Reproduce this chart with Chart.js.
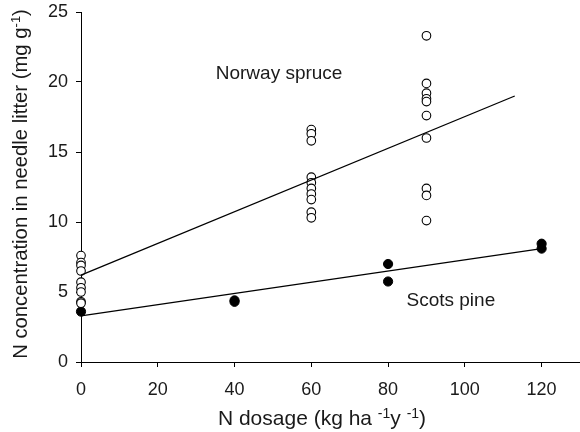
<!DOCTYPE html>
<html>
<head>
<meta charset="utf-8">
<script src="https://cdn.jsdelivr.net/npm/chart.js@4.4.1/dist/chart.umd.min.js"></script>
<style>
  html, body { margin: 0; padding: 0; background: #fff; }
  #wrap { width: 580px; height: 432px; }
</style>
</head>
<body>
<div id="wrap"><canvas id="litterChart" width="580" height="432"></canvas></div>
<script>
// N concentration in needle litter vs. N dosage

const doseTicks = [0, 20, 40, 60, 80, 100, 120];
const concTicks = [0, 5, 10, 15, 20, 25];

// Norway spruce (open circles)
const spruceDose = [
  0, 0, 0, 0, 0, 0, 0, 0, 0,
  60, 60, 60, 60, 60, 60, 60, 60, 60, 60,
  90, 90, 90, 90, 90, 90, 90, 90, 90, 90
];
const spruceConc = [
  7.6, 7.1, 6.9, 6.5, 5.7, 5.3, 5.0, 4.3, 4.2,
  16.6, 16.3, 15.8, 13.2, 12.8, 12.4, 12.0, 11.6, 10.7, 10.3,
  23.3, 19.9, 19.2, 18.8, 18.6, 17.6, 16.0, 12.4, 11.9, 10.1
];

// Scots pine (filled circles)
const pineDose = [0, 40, 40, 80, 80, 120, 120];
const pineConc = [3.6, 4.3, 4.4, 7.0, 5.75, 8.45, 8.1];

// regression lines (end points)
const spruceFitDose = [0, 113];
const spruceFitConc = [6.2, 19.0];
const pineFitDose = [0, 120];
const pineFitConc = [3.3, 8.1];

const FONT = '"Liberation Sans", Arial, Helvetica, sans-serif';
const INK = '#1a1a1a';

function toPoints(xs, ys) {
  return xs.map((x, i) => ({ x: x, y: ys[i] }));
}

// draws a run of text pieces, some of them raised as superscripts
function drawPieces(ctx, pieces, size, supSize, supRise) {
  const widths = pieces.map(p => {
    ctx.font = (p.sup ? supSize : size) + 'px ' + FONT;
    return ctx.measureText(p.t).width;
  });
  const total = widths.reduce((a, b) => a + b, 0);
  let x = -total / 2;
  pieces.forEach((p, i) => {
    ctx.font = (p.sup ? supSize : size) + 'px ' + FONT;
    ctx.fillText(p.t, x, p.sup ? -supRise : 0);
    x += widths[i];
  });
}

const titlesPlugin = {
  id: 'axisTitles',
  afterDraw(chart) {
    const ctx = chart.ctx;
    const xs = chart.scales.x, ys = chart.scales.y;
    ctx.save();
    ctx.fillStyle = INK;
    ctx.textBaseline = 'alphabetic';
    ctx.textAlign = 'left';

    // x title
    ctx.save();
    ctx.translate(322, 425);
    drawPieces(ctx, [
      { t: 'N dosage (kg ha ' }, { t: '-1', sup: true },
      { t: 'y ' }, { t: '-1', sup: true }, { t: ')' }
    ], 21, 14, 7);
    ctx.restore();

    // y title
    ctx.save();
    ctx.translate(27, 184);
    ctx.rotate(-Math.PI / 2);
    drawPieces(ctx, [
      { t: 'N concentration in needle litter (mg g' }, { t: '-1', sup: true }, { t: ')' }
    ], 20.3, 13, 7);
    ctx.restore();

    // species labels
    ctx.font = '19px ' + FONT;
    ctx.fillText('Norway spruce', xs.getPixelForValue(35.1), ys.getPixelForValue(20.2));
    ctx.fillText('Scots pine', xs.getPixelForValue(84.8), ys.getPixelForValue(4.0));
    ctx.restore();
  }
};

// keep the plot area fixed: no extra room for edge tick labels
function noEdgePadding(scale) {
  scale.paddingTop = 0;
  scale.paddingBottom = 0;
  scale.paddingLeft = 0;
  scale.paddingRight = 0;
}

const ctx = document.getElementById('litterChart').getContext('2d');
new Chart(ctx, {
  type: 'scatter',
  data: {
    datasets: [
      {
        type: 'line',
        data: toPoints(spruceFitDose, spruceFitConc),
        borderColor: '#000',
        borderWidth: 1.3,
        pointRadius: 0,
        fill: false,
        clip: false
      },
      {
        type: 'line',
        data: toPoints(pineFitDose, pineFitConc),
        borderColor: '#000',
        borderWidth: 1.3,
        pointRadius: 0,
        fill: false,
        clip: false
      },
      {
        label: 'Norway spruce',
        data: toPoints(spruceDose, spruceConc),
        pointRadius: 4.3,
        pointBackgroundColor: '#fff',
        pointBorderColor: '#000',
        pointBorderWidth: 1.1,
        clip: false
      },
      {
        label: 'Scots pine',
        data: toPoints(pineDose, pineConc),
        pointRadius: 4.6,
        pointBackgroundColor: '#000',
        pointBorderColor: '#000',
        pointBorderWidth: 1,
        clip: false
      }
    ]
  },
  options: {
    responsive: false,
    animation: false,
    layout: { autoPadding: false, padding: { top: 12, right: 0, bottom: 0, left: 0 } },
    plugins: {
      legend: { display: false },
      tooltip: { enabled: false }
    },
    scales: {
      x: {
        type: 'linear',
        min: 0,
        max: 130,
        afterBuildTicks: (axis) => {
          axis.ticks = doseTicks.map(v => ({ value: v }));
        },
        afterFit: (scale) => { scale.height = 70; noEdgePadding(scale); },
        grid: { drawOnChartArea: false, tickColor: '#000', tickLength: 5 },
        border: { color: '#000', width: 1 },
        ticks: {
          color: INK,
          padding: 12,
          maxRotation: 0,
          font: { family: FONT, size: 18 }
        }
      },
      y: {
        type: 'linear',
        min: 0,
        max: 25,
        afterBuildTicks: (axis) => {
          axis.ticks = concTicks.map(v => ({ value: v }));
        },
        afterFit: (scale) => { scale.width = 81; noEdgePadding(scale); },
        grid: { drawOnChartArea: false, tickColor: '#000', tickLength: 5 },
        border: { color: '#000', width: 1 },
        ticks: {
          color: INK,
          padding: 8,
          font: { family: FONT, size: 18 }
        }
      }
    }
  },
  plugins: [titlesPlugin]
});
</script>
</body>
</html>
